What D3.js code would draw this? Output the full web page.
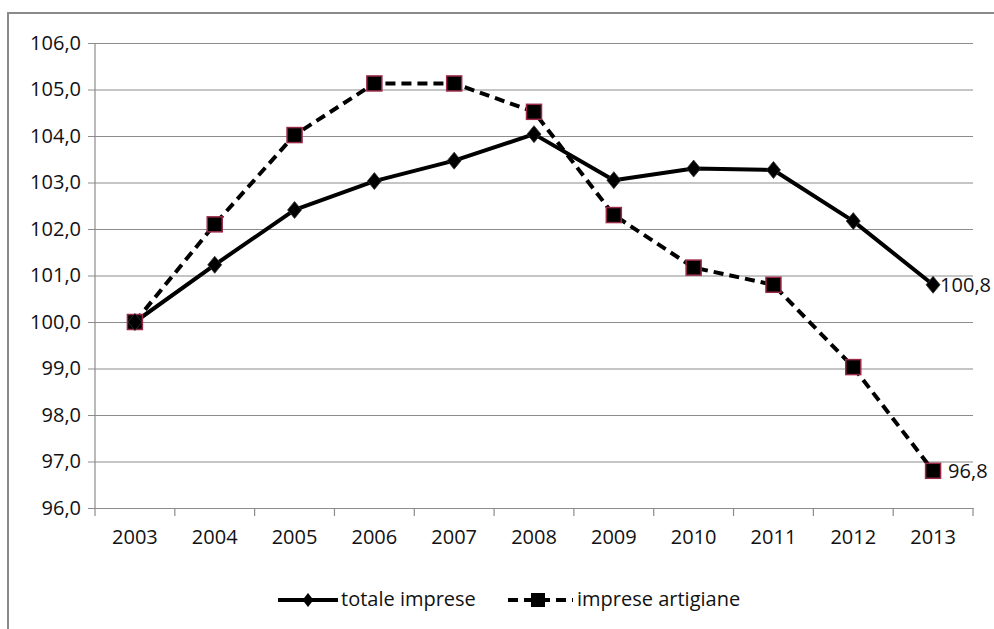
<!DOCTYPE html>
<html>
<head>
<meta charset="utf-8">
<script src="https://cdn.jsdelivr.net/npm/d3@7"></script>
<style>
  html, body { margin: 0; padding: 0; background: #fff; }
  svg { display: block; }
  text { font-family: "Open Sans", sans-serif; fill: #111; }
</style>
</head>
<body>
<svg id="chart" width="994" height="629"></svg>
<script>
// Index numbers, 2003 = 100
const years = ["2003","2004","2005","2006","2007","2008","2009","2010","2011","2012","2013"];
const totaleImprese = [100.0, 101.23, 102.41, 103.03, 103.47, 104.04, 103.05, 103.30, 103.27, 102.17, 100.8];
const impreseArtigiane = [100.0, 102.1, 104.02, 105.13, 105.13, 104.52, 102.3, 101.17, 100.8, 99.03, 96.8];
const yTicks = [96, 97, 98, 99, 100, 101, 102, 103, 104, 105, 106];
const seriesNames = ["totale imprese", "imprese artigiane"];

const svg = d3.select("#chart");
const fmt = v => v.toFixed(1).replace(".", ",");

// Frame
svg.append("line").attr("x1", 8).attr("x2", 8).attr("y1", 12).attr("y2", 629)
  .attr("stroke", "#8a8a8a").attr("stroke-width", 2);
svg.append("line").attr("x1", 7).attr("x2", 994).attr("y1", 13).attr("y2", 13)
  .attr("stroke", "#8a8a8a").attr("stroke-width", 2);

const plot = { left: 95, right: 973, top: 43, bottom: 508 };

const x = d3.scaleBand().domain(years).range([plot.left, plot.right]);
const y = d3.scaleLinear().domain([96, 106]).range([plot.bottom, plot.top]);
const cx = d => x(d) + x.bandwidth() / 2;

// Gridlines and y axis labels
const yAxis = d3.axisLeft(y).tickValues(yTicks).tickFormat(fmt)
  .tickSize(-(plot.right - plot.left)).tickPadding(14);
const gy = svg.append("g").attr("transform", `translate(${plot.left},0)`).call(yAxis);
gy.select(".domain").remove();
gy.selectAll(".tick line").attr("stroke", "#8c8c8c").attr("stroke-width", 1.2).attr("x1", -7);
gy.selectAll(".tick text").attr("font-size", 20).attr("fill", "#111");

// Vertical axis line
svg.append("line").attr("x1", plot.left).attr("x2", plot.left)
  .attr("y1", plot.top).attr("y2", plot.bottom)
  .attr("stroke", "#8c8c8c").attr("stroke-width", 1.2);

// Category axis
const xAxis = d3.axisBottom(x).tickSize(0).tickPadding(22);
const gx = svg.append("g").attr("transform", `translate(0,${plot.bottom})`).call(xAxis);
gx.select(".domain").attr("stroke", "#8c8c8c").attr("stroke-width", 1.2);
gx.selectAll(".tick text").attr("font-size", 20).attr("fill", "#111");
// Tick marks between categories
const bounds = years.map(d => x(d)).concat([x(years[years.length - 1]) + x.bandwidth()]);
gx.selectAll("line.sep").data(bounds).join("line").attr("class", "sep")
  .attr("x1", d => d).attr("x2", d => d).attr("y1", 0).attr("y2", 8)
  .attr("stroke", "#8c8c8c").attr("stroke-width", 1.2);

const line = d3.line().x((d, i) => cx(years[i])).y(d => y(d));

// imprese artigiane (dashed, squares)
svg.append("path").datum(impreseArtigiane).attr("d", line)
  .attr("fill", "none").attr("stroke", "#000").attr("stroke-width", 4)
  .attr("stroke-dasharray", "10,6");

// totale imprese (solid, diamonds)
svg.append("path").datum(totaleImprese).attr("d", line)
  .attr("fill", "none").attr("stroke", "#000").attr("stroke-width", 4)
  .attr("stroke-linejoin", "round");

const sq = 15;
svg.append("g").selectAll("rect").data(impreseArtigiane).join("rect")
  .attr("x", (d, i) => cx(years[i]) - sq / 2).attr("y", d => y(d) - sq / 2)
  .attr("width", sq).attr("height", sq)
  .attr("fill", "#000").attr("stroke", "#9b2a48").attr("stroke-width", 1.5);

const diamond = (px, py, w, h) => `M${px},${py - h}L${px + w},${py}L${px},${py + h}L${px - w},${py}Z`;
svg.append("g").selectAll("path").data(totaleImprese).join("path")
  .attr("d", (d, i) => diamond(cx(years[i]), y(d), 7, 8.5))
  .attr("fill", "#000").attr("stroke", "#333").attr("stroke-width", 0.8);

// End labels
const last = years.length - 1;
svg.append("text").attr("x", cx(years[last]) + 7).attr("y", y(totaleImprese[last]))
  .attr("dy", "0.36em").attr("font-size", 20).text(fmt(totaleImprese[last]));
svg.append("text").attr("x", cx(years[last]) + 15).attr("y", y(impreseArtigiane[last]))
  .attr("dy", "0.36em").attr("font-size", 20).text(fmt(impreseArtigiane[last]));

// Legend
const ly = 600;
const lg = svg.append("g");
lg.append("line").attr("x1", 278).attr("x2", 338).attr("y1", ly).attr("y2", ly)
  .attr("stroke", "#000").attr("stroke-width", 4);
lg.append("path").attr("d", diamond(308, ly, 5.5, 7)).attr("fill", "#000");
lg.append("text").attr("x", 341).attr("y", ly).attr("dy", "0.32em")
  .attr("font-size", 20).text(seriesNames[0]);

lg.append("line").attr("x1", 508).attr("x2", 573).attr("y1", ly).attr("y2", ly)
  .attr("stroke", "#000").attr("stroke-width", 4).attr("stroke-dasharray", "10,6");
lg.append("rect").attr("x", 531).attr("y", ly - 7).attr("width", 14).attr("height", 14)
  .attr("fill", "#000");
lg.append("text").attr("x", 577).attr("y", ly).attr("dy", "0.32em")
  .attr("font-size", 20).text(seriesNames[1]);
</script>
</body>
</html>
